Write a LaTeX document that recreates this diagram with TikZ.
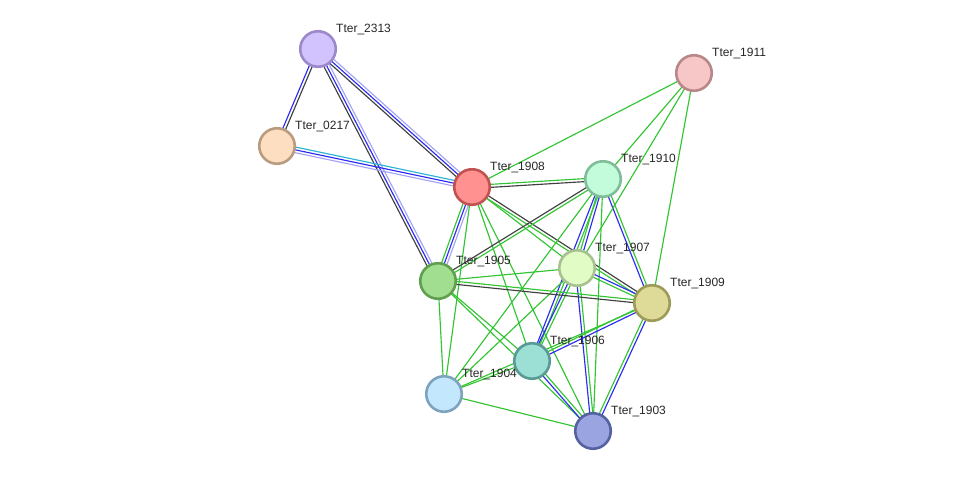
\documentclass[tikz,border=0pt]{standalone}
\usepackage{fontspec}
\setmainfont{Liberation Sans}
\usetikzlibrary{calc}
\pgfdeclarelayer{background}
\pgfsetlayers{background,main}
\definecolor{tm}{HTML}{33C433}
\definecolor{ce}{HTML}{404040}
\definecolor{co}{HTML}{2B2BF2}
\definecolor{db}{HTML}{A4A4F6}
\definecolor{ex}{HTML}{2BB5D3}
\definecolor{f2313}{HTML}{D2C3FE}\definecolor{d2313}{HTML}{9D89C9}
\definecolor{f0217}{HTML}{FDDEC0}\definecolor{d0217}{HTML}{B99C80}
\definecolor{f1908}{HTML}{FF9191}\definecolor{d1908}{HTML}{C05252}
\definecolor{f1910}{HTML}{C2FCDB}\definecolor{d1910}{HTML}{80BE9A}
\definecolor{f1911}{HTML}{F7C7C7}\definecolor{d1911}{HTML}{B88888}
\definecolor{f1907}{HTML}{E1FCC4}\definecolor{d1907}{HTML}{A8C190}
\definecolor{f1905}{HTML}{A1DE90}\definecolor{d1905}{HTML}{609E50}
\definecolor{f1909}{HTML}{DEDA98}\definecolor{d1909}{HTML}{9E9A58}
\definecolor{f1906}{HTML}{9CDFD5}\definecolor{d1906}{HTML}{5A9A94}
\definecolor{f1904}{HTML}{C3E8FD}\definecolor{d1904}{HTML}{7EA4BD}
\definecolor{f1903}{HTML}{99A4E0}\definecolor{d1903}{HTML}{56619F}
\tikzset{
  prot/.style={circle, draw, line width=2.6pt, minimum size=35.5pt, inner sep=0pt},
  lbl/.style={anchor=base west, inner sep=0pt, font=\fontsize{12}{14}\selectfont, text=black!85},
  ln/.style={line width=1.15pt},
}
\newcommand\oline[4]{\draw[ln,#4] ($(#1.center)!#3!90:(#2.center)$) -- ($(#2.center)!#3!-90:(#1.center)$);}
\newcommand\eone[3]{\oline{#1}{#2}{0pt}{#3}}
\newcommand\etwo[4]{\oline{#1}{#2}{-1.5pt}{#3}\oline{#1}{#2}{1.5pt}{#4}}
\newcommand\ethree[5]{\oline{#1}{#2}{-2.8pt}{#3}\oline{#1}{#2}{0pt}{#4}\oline{#1}{#2}{2.8pt}{#5}}
\newcommand\prot[3]{%
  \node[prot, fill=f#1, draw=d#1] (#1) at (#2,#3) {};
  \node[lbl] (l#1) at (#2+18,#3-17) {Tter\_#1};
}
\begin{document}
\begin{tikzpicture}[x=1pt,y=-1pt]
\useasboundingbox (0,0) rectangle (975,477);
\prot{2313}{318}{49}
\prot{0217}{277}{146}
\prot{1908}{472}{187}
\prot{1910}{603}{179}
\prot{1911}{694}{73}
\prot{1907}{577}{268}
\prot{1905}{438}{281}
\prot{1909}{652}{303}
\prot{1906}{532}{361}
\prot{1904}{444}{394}
\prot{1903}{593}{431}
\begin{pgfonlayer}{background}
\etwo{2313}{0217}{co}{ce}
\ethree{2313}{1908}{ce}{co}{db}
\ethree{2313}{1905}{ce}{co}{db}
\ethree{0217}{1908}{db}{co}{ex}
\ethree{1908}{1905}{tm}{co}{db}
\etwo{1908}{1910}{ce}{tm}
\eone{1908}{1911}{tm}
\eone{1908}{1907}{tm}
\etwo{1908}{1909}{tm}{ce}
\eone{1908}{1906}{tm}
\eone{1908}{1903}{tm}
\eone{1908}{1904}{tm}
\etwo{1910}{1905}{ce}{tm}
\etwo{1910}{1907}{tm}{co}
\etwo{1910}{1909}{co}{tm}
\etwo{1910}{1906}{co}{tm}
\eone{1910}{1903}{tm}
\eone{1910}{1904}{tm}
\eone{1911}{1910}{tm}
\eone{1911}{1907}{tm}
\eone{1911}{1909}{tm}
\eone{1907}{1905}{tm}
\etwo{1907}{1909}{tm}{co}
\etwo{1907}{1906}{co}{tm}
\etwo{1907}{1903}{co}{tm}
\eone{1907}{1904}{tm}
\etwo{1905}{1909}{ce}{tm}
\eone{1905}{1906}{tm}
\eone{1905}{1903}{tm}
\eone{1905}{1904}{tm}
\etwo{1909}{1906}{tm}{co}
\etwo{1909}{1903}{tm}{co}
\eone{1909}{1904}{tm}
\etwo{1906}{1903}{co}{tm}
\eone{1906}{1904}{tm}
\eone{1904}{1903}{tm}
\end{pgfonlayer}
\end{tikzpicture}
\end{document}
